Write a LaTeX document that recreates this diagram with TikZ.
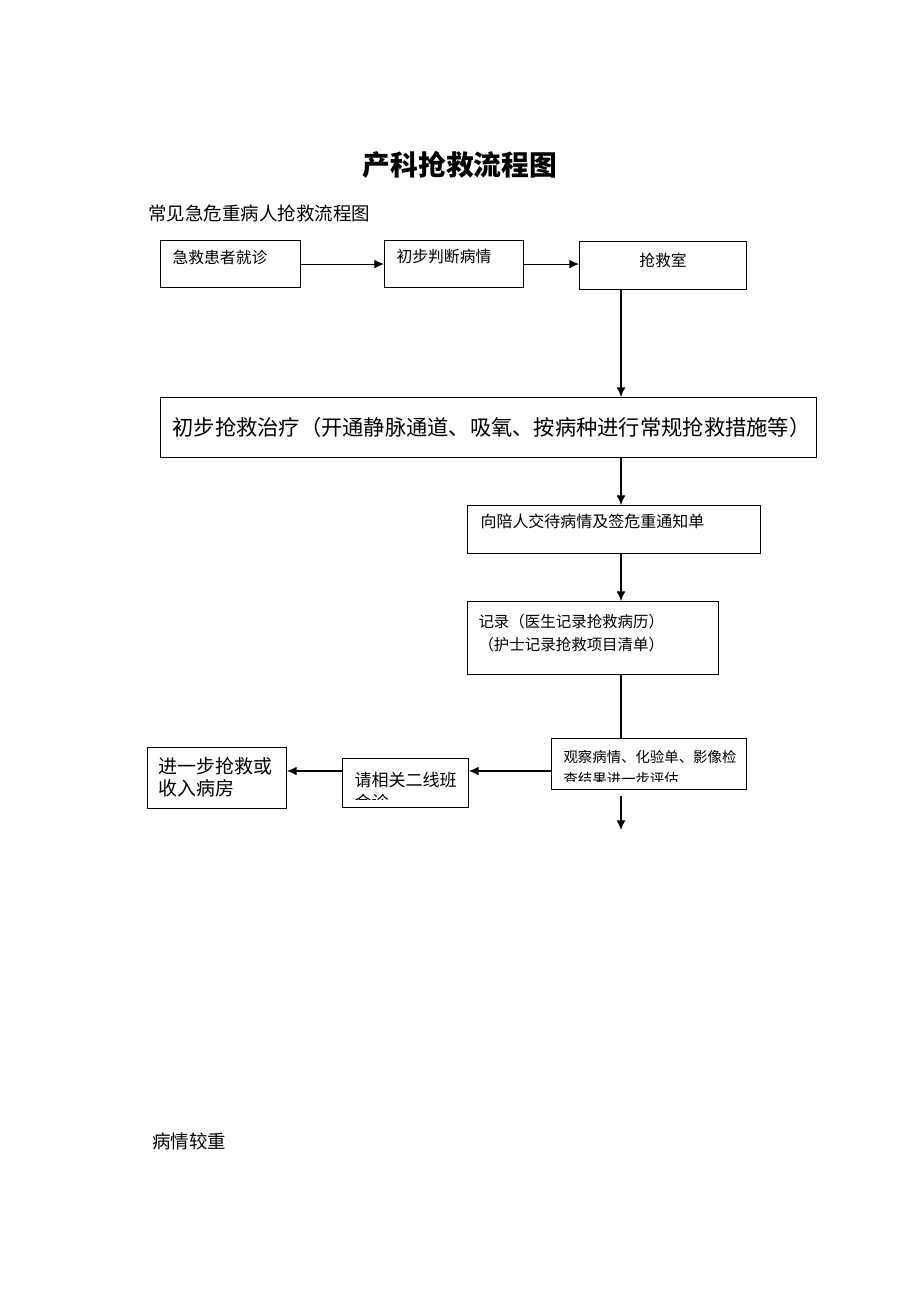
\documentclass[tikz,border=0pt]{standalone}
\usepackage{fontspec}
\setmainfont{Noto Sans CJK SC}
\usepackage{tikz}
\usetikzlibrary{arrows.meta}

\newcommand\fsz[2]{\fontsize{#1}{#2}\selectfont}

\tikzset{
  box/.style={draw, rectangle, inner sep=0pt, anchor=north west},
  txt/.style={anchor=west, inner sep=0pt, align=left},
  >={Latex[length=5.5pt,width=5pt]},
}

\begin{document}
\begin{tikzpicture}[x=0.02cm, y=-0.02cm, line width=0.6pt]
                \useasboundingbox (0,0) rectangle (920,1302);

                \node[anchor=center, font=\fsz{15.8}{16}\bfseries] (title) at (460,165) {产科抢救流程图};
                \node[txt, font=\fsz{10.5}{12}] (sub) at (148,213) {常见急危重病人抢救流程图};

                \node[box, minimum width=2.8cm, minimum height=0.94cm] (jiuzhen) at (160,240) {};
                \node[box, minimum width=2.78cm, minimum height=0.94cm] (panduan) at (384,240) {};
                \node[box, minimum width=3.34cm, minimum height=0.96cm] (qiangjiu) at (579,241) {};
                \node[box, minimum width=13.12cm, minimum height=1.2cm] (zhiliao) at (160,397) {};
                \node[box, minimum width=5.86cm, minimum height=0.96cm] (jiaodai) at (467,505) {};
                \node[box, minimum width=5.02cm, minimum height=1.46cm] (jilu) at (467,601) {};
                \node[box, minimum width=3.9cm, minimum height=1.02cm] (guancha) at (551,738) {};
                \node[box, minimum width=2.52cm, minimum height=0.98cm] (huizhen) at (342,758) {};
                \node[box, minimum width=2.78cm, minimum height=1.22cm] (jinyibu) at (147,747) {};

                \node[txt, font=\fsz{9}{11}] at (172,257) {急救患者就诊};
                \node[txt, font=\fsz{9}{11}] at (396,257) {初步判断病情};
                \node[anchor=center, font=\fsz{9}{11}] at (663,260) {抢救室};
                \node[txt, font=\fsz{12.1}{14}] at (172,427) {初步抢救治疗（开通静脉通道、吸氧、按病种进行常规抢救措施等）};
                \node[txt, font=\fsz{9.1}{11}] at (480,521) {向陪人交待病情及签危重通知单};
                \node[txt, font=\fsz{8.8}{13}] at (478,633) {记录（医生记录抢救病历）\\（护士记录抢救项目清单）};
                \node[txt, font=\fsz{10.8}{12.5}] at (158,777) {进一步抢救或\\收入病房};
                \begin{scope}
                    \clip (551,738) rectangle (747,781);
                    \node[txt, font=\fsz{8.2}{12.5}] at (563,768) {观察病情、化验单、影像检\\查结果进一步评估};
                \end{scope}
                \begin{scope}
                    \clip (342,758) rectangle (468,799);
                    \node[txt, font=\fsz{9.7}{12.5}] at (354,791) {请相关二线班\\会诊};
                \end{scope}

                \node[txt, font=\fsz{10.5}{12}] (jiaozhong) at (152,1141) {病情较重};

                \coordinate (spine) at (621,0);
                \coordinate (row) at (0,771);
                \coordinate (down1) at (621,796);
                \coordinate (down2) at (621,830);

                \draw[->] (jiuzhen.east) -- (panduan.west);
                \draw[->] (panduan.east) -- (panduan.east -| qiangjiu.west);
                \draw[->] (qiangjiu.south -| spine) -- (zhiliao.north -| spine);
                \draw[->] (zhiliao.south -| spine) -- (jiaodai.north -| spine);
                \draw[->] (jiaodai.south -| spine) -- (jilu.north -| spine);
                \draw (jilu.south -| spine) -- (guancha.north -| spine);
                \draw[->] (guancha.west |- row) -- (huizhen.east |- row);
                \draw[->] (huizhen.west |- row) -- (jinyibu.east |- row);
                \draw[->] (down1) -- (down2);
            \end{tikzpicture}
\end{document}
